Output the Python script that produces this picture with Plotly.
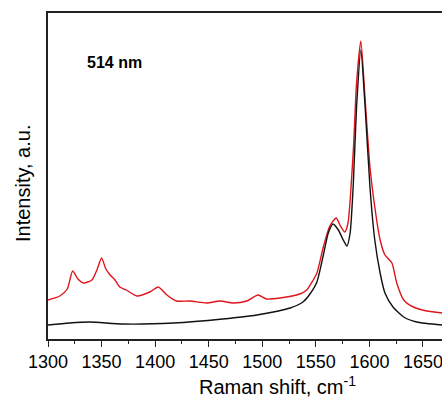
import plotly.graph_objects as go

# Raman shift (cm^-1) and intensity (a.u.)
red_x = [1300, 1311, 1318, 1323, 1328, 1333, 1341, 1346, 1350, 1354, 1358, 1362.5, 1367, 1373, 1383,
         1395, 1403, 1411, 1420, 1432.5, 1448, 1460.5, 1473, 1485.5, 1496, 1504, 1516.5, 1535,
         1541.5, 1547, 1551, 1557, 1563, 1569, 1572.5, 1577, 1580, 1585, 1588, 1592, 1596,
         1600.5, 1605, 1610, 1614.5, 1621, 1625.5, 1632, 1641, 1653.5, 1668]
red_y = [39, 43, 50, 68, 60, 56, 59, 70, 81, 70, 64, 59, 52, 49, 43,
         47, 52, 44, 38, 38, 36, 38, 36, 38, 44, 40, 41, 45,
         49, 58, 66, 92, 113, 121, 114, 107, 116, 189, 256, 298, 239,
         172, 132, 99, 84, 76, 56, 39, 32, 28, 26]

black_x = [1300, 1320, 1339, 1370, 1417, 1463, 1495, 1526, 1538, 1544.5, 1551, 1557, 1561.6, 1566,
           1571, 1575.6, 1579, 1582, 1585, 1588, 1592, 1596, 1600.5, 1605, 1610, 1614.5, 1622,
           1632, 1644, 1668]
black_y = [14, 16, 17, 15, 16, 20, 24, 31, 37, 45, 57, 84, 106, 115,
           109, 99, 93, 106, 156, 232, 289, 232, 152, 99, 66, 46, 32,
           22, 17, 14]

x_ticks = [1300, 1350, 1400, 1450, 1500, 1550, 1600, 1650]
label_text = "514 nm"

W, H = 442, 400
L, R, T, B = 48, 0, 13, 61
pw, ph = W - L - R, H - T - B

fig = go.Figure()
fig.add_trace(go.Scatter(x=red_x, y=red_y, mode="lines", line=dict(color="#e0141b", width=1.4, shape="spline", smoothing=0.6)))
fig.add_trace(go.Scatter(x=black_x, y=black_y, mode="lines", line=dict(color="#111111", width=1.4, shape="spline", smoothing=0.6)))

font = "Arial, Liberation Sans, sans-serif"
fig.update_layout(
    width=W, height=H, margin=dict(l=L, r=R, t=T, b=B, autoexpand=False),
    paper_bgcolor="white", plot_bgcolor="white", showlegend=False,
    font=dict(family=font, color="black"),
    xaxis=dict(range=[1300, 1300 + pw / 1.0714], tickmode="array", tickvals=x_ticks, automargin=False,
               ticktext=[str(v) for v in x_ticks], ticks="outside", ticklen=6, tickwidth=1.3,
               ticklabeloverflow="allow",
               tickcolor="#222", showline=True, linecolor="#222", linewidth=1.5, mirror=True,
               showgrid=False, zeroline=False, tickfont=dict(size=18, family=font),
               minor=dict(ticks="outside", ticklen=3, tickwidth=1.2, tickcolor="#222", dtick=25, tick0=1300, showgrid=False)),
    yaxis=dict(range=[0, ph], showticklabels=False, ticks="", showline=True, linecolor="#222", automargin=False,
               linewidth=1.5, showgrid=False, zeroline=False),
)

def px(x):
    return (x - L) / pw

def py(y):
    return (H - B - y) / ph

common = dict(xref="paper", yref="paper", showarrow=False, xanchor="center", yanchor="middle")
fig.add_annotation(x=px(114), y=py(62), text="<b>%s</b>" % label_text,
                   font=dict(size=16, family=font, color="black"), **common)
fig.add_annotation(x=px(277), y=py(385), text="Raman shift, cm<sup>-1</sup>",
                   font=dict(size=20, family=font, color="black"), **common)
fig.add_annotation(x=px(23), y=py(184), text="Intensity, a.u.", textangle=-90,
                   font=dict(size=20, family=font, color="black"), **common)

fig.write_html("out.html", config={"displayModeBar": False},
               post_script="document.body.style.margin='0';document.body.style.overflow='hidden';")
